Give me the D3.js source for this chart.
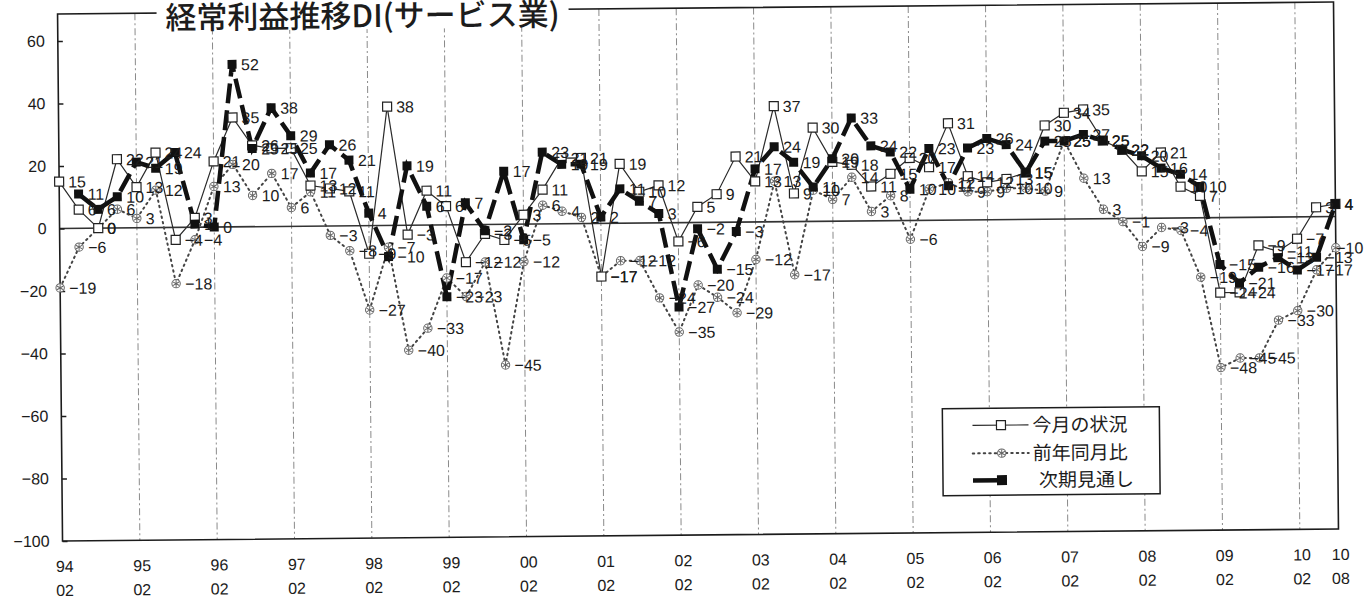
<!DOCTYPE html>
<html>
<head>
<meta charset="utf-8">
<script src="https://cdn.jsdelivr.net/npm/d3@7"></script>
<style>
  body { margin: 0; background: #fff; }
  svg { display: block; }
</style>
</head>
<body>
<svg id="chart" width="1369" height="607"></svg>
<script>
// Survey periods (year/month), quarterly from 1994/02 to 2010/08
const periods = [
  "94/02","94/05","94/08","94/11","95/02","95/05","95/08","95/11",
  "96/02","96/05","96/08","96/11","97/02","97/05","97/08","97/11",
  "98/02","98/05","98/08","98/11","99/02","99/05","99/08","99/11",
  "00/02","00/05","00/08","00/11","01/02","01/05","01/08","01/11",
  "02/02","02/05","02/08","02/11","03/02","03/05","03/08","03/11",
  "04/02","04/05","04/08","04/11","05/02","05/05","05/08","05/11",
  "06/02","06/05","06/08","06/11","07/02","07/05","07/08","07/11",
  "08/02","08/05","08/08","08/11","09/02","09/05","09/08","09/11",
  "10/02","10/05","10/08"
];

// 今月の状況 (current month)
const currentDI = [
  15, 6, 0, 22, 13, 24, -4, 3,
  21, 35, 26, 25, 25, 13, 12, 11,
  -9, 38, -3, 11, 6, -12, -3, -5,
  3, 11, 21, 21, -17, 19, 10, 12,
  -6, 5, 9, 21, 13, 37, 9, 30,
  19, 18, 11, 15, 20, 17, 31, 14,
  12, 13, 15, 30, 34, 35, 25, 22,
  15, 21, 10, 7, -24, -24, -9, -11,
  -7, 3, 4
];

// 前年同月比 (vs. same month a year earlier)
const yoyDI = [
  -19, -6, 0, 6, 3, 12, -18, -4,
  13, 20, 10, 17, 6, 11, -3, -8,
  -27, -7, -40, -33, -17, -23, -12, -45,
  -12, 6, 4, 2, -17, -12, -12, -24,
  -35, -20, -24, -29, -12, 13, -17, 10,
  7, 14, 3, 8, -6, 10, 12, 9,
  9, 10, 10, 9, 25, 13, 3, -1,
  -9, -3, -4, -19, -48, -45, -45, -33,
  -30, -17, -10
];

// 次期見通し (outlook for the next period)
const outlookDI = [
  null, 11, 6, 10, 21, 19, 24, 1,
  0, 52, 25, 38, 29, 17, 26, 21,
  4, -10, 19, 6, -23, 7, -2, 17,
  -5, 23, 19, 19, 2, 11, 7, 3,
  -27, -2, -15, -3, 17, 24, 19, 11,
  20, 33, 24, 22, 10, 23, 11, 23,
  26, 24, 15, 25, 25, 27, 25, 22,
  20, 16, 14, 10, -15, -21, -16, -13,
  -17, -13, 4
];

const yTicks = [-100, -80, -60, -40, -20, 0, 20, 40, 60];
const seriesNames = ["今月の状況", "前年同月比", "次期見通し"];
const chartTitle = "経常利益推移DI(サービス業)";

// ---------------------------------------------------------------
const fontLatin = "'Liberation Sans', Arial, sans-serif";
const fontJP = "'Noto Sans CJK JP', 'Noto Sans CJK SC', sans-serif";
const ink = "#1c1c1c";

const svg = d3.select("#chart");
svg.append("rect").attr("width", 1369).attr("height", 607).attr("fill", "#fff");

// the printed sheet sits very slightly tilted
const g = svg.append("g").attr("transform", "rotate(-0.54 698 270)");

const x = d3.scaleLinear().domain([0, periods.length - 1]).range([60, 1336]);
const y = d3.scaleLinear().domain([-100, 70]).range([535, 3.75]);

const plotTop = 8, plotBottom = y(-100), plotLeft = x(0), plotRight = x(periods.length - 1);

// yearly vertical guides
const yearIdx = periods.map((p, i) => i).filter(i => periods[i].endsWith("/02") && i > 0);
g.append("g").selectAll("line").data(yearIdx).join("line")
  .attr("x1", i => x(i)).attr("x2", i => x(i))
  .attr("y1", plotTop).attr("y2", plotBottom)
  .attr("stroke", "#8a8a8a").attr("stroke-width", 1)
  .attr("stroke-dasharray", "7,3,2,3");

// zero line
g.append("line")
  .attr("x1", plotLeft).attr("x2", plotRight).attr("y1", y(0)).attr("y2", y(0))
  .attr("stroke", "#333").attr("stroke-width", 1.6);

// frame
g.append("rect")
  .attr("x", plotLeft).attr("y", plotTop).attr("width", plotRight - plotLeft).attr("height", plotBottom - plotTop)
  .attr("fill", "none").attr("stroke", ink).attr("stroke-width", 1.6);

// y axis: ticks pointing inward, labels on the left
const yAxis = d3.axisLeft(y).tickValues(yTicks).tickSize(-5).tickPadding(13)
  .tickFormat(d => d < 0 ? "−" + Math.abs(d) : String(d));
const ya = g.append("g").attr("transform", `translate(${plotLeft},0)`).call(yAxis);
ya.select(".domain").remove();
ya.selectAll("line").attr("stroke", ink).attr("stroke-width", 1.4);
ya.selectAll("text").attr("font-family", fontLatin).attr("font-size", 16).attr("fill", ink);

// x axis labels (two lines: year / month)
const xLabelIdx = periods.map((p, i) => i)
  .filter(i => periods[i].endsWith("/02") || i === periods.length - 1);
const xl = g.append("g").selectAll("text").data(xLabelIdx).join("text")
  .attr("x", i => x(i) + 2)
  .attr("text-anchor", "middle")
  .attr("font-family", fontLatin).attr("font-size", 16).attr("fill", ink);
xl.append("tspan").attr("x", i => x(i) + 2).attr("y", 566).text(i => periods[i].split("/")[0]);
xl.append("tspan").attr("x", i => x(i) + 2).attr("y", 590).text(i => periods[i].split("/")[1]);

// series lines
const lineGen = d3.line()
  .defined(d => d.v !== null)
  .x(d => x(d.i)).y(d => y(d.v));
const toPts = arr => arr.map((v, i) => ({ i, v }));

const curPts = toPts(currentDI);
const yoyPts = toPts(yoyDI);
const outPts = toPts(outlookDI);

g.append("path").datum(yoyPts).attr("d", lineGen)
  .attr("fill", "none").attr("stroke", "#444").attr("stroke-width", 2)
  .attr("stroke-dasharray", "1.5,4").attr("stroke-linecap", "round");

g.append("path").datum(curPts).attr("d", lineGen)
  .attr("fill", "none").attr("stroke", "#2a2a2a").attr("stroke-width", 1.2);

g.append("path").datum(outPts).attr("d", lineGen)
  .attr("fill", "none").attr("stroke", "#111").attr("stroke-width", 4.5)
  .attr("stroke-dasharray", "20,7");

// markers
const yoyMark = (sel, cx, cy, r) => {
  sel.append("circle").attr("cx", cx).attr("cy", cy).attr("r", r)
    .attr("fill", "#fff").attr("stroke", "#666").attr("stroke-width", 1);
  sel.append("path").attr("transform", `translate(${cx},${cy})`)
    .attr("d", d3.symbol().type(d3.symbolAsterisk).size(r * r * 2.2)())
    .attr("fill", "none").attr("stroke", "#666").attr("stroke-width", 1);
};

const yoyG = g.append("g");
yoyPts.filter(d => d.v !== null).forEach(d => yoyMark(yoyG, x(d.i), y(d.v), 4.2));

g.append("g").selectAll("rect").data(curPts.filter(d => d.v !== null)).join("rect")
  .attr("x", d => x(d.i) - 4.5).attr("y", d => y(d.v) - 4.5)
  .attr("width", 9).attr("height", 9)
  .attr("fill", "#fff").attr("stroke", "#222").attr("stroke-width", 1.2);

g.append("g").selectAll("rect").data(outPts.filter(d => d.v !== null)).join("rect")
  .attr("x", d => x(d.i) - 4.5).attr("y", d => y(d.v) - 4.5)
  .attr("width", 9).attr("height", 9)
  .attr("fill", "#111");

// value labels to the right of every point (kept inside the page at the right edge)
const fmt = v => (v < 0 ? "−" + Math.abs(v) : String(v));
[yoyPts, curPts, outPts].forEach(pts => {
  g.append("g").selectAll("text").data(pts.filter(d => d.v !== null)).join("text")
    .attr("x", d => Math.min(x(d.i) + 9, 1364 - 9.2 * fmt(d.v).length))
    .attr("y", d => y(d.v) + 6)
    .attr("font-family", fontLatin).attr("font-size", 16).attr("fill", ink)
    .text(d => fmt(d.v));
});

// title, breaking the top edge of the frame
const titleX = 365;
g.append("rect").attr("x", titleX - 206).attr("y", -10).attr("width", 412).attr("height", 36)
  .attr("fill", "#fff");
g.append("text").attr("x", titleX).attr("y", 24)
  .attr("text-anchor", "middle")
  .attr("font-family", fontJP).attr("font-size", 31).attr("font-weight", 500).attr("fill", ink)
  .text(chartTitle);

// legend
const lg = g.append("g");
lg.append("rect").attr("x", 941).attr("y", 411).attr("width", 217).attr("height", 87)
  .attr("fill", "#fff").attr("stroke", ink).attr("stroke-width", 1.5);
const rowY = [428, 456, 483];

lg.append("line").attr("x1", 971).attr("x2", 1027).attr("y1", rowY[0]).attr("y2", rowY[0])
  .attr("stroke", "#2a2a2a").attr("stroke-width", 1.2);
lg.append("rect").attr("x", 995).attr("y", rowY[0] - 4.5).attr("width", 9).attr("height", 9)
  .attr("fill", "#fff").attr("stroke", "#222").attr("stroke-width", 1.2);

lg.append("line").attr("x1", 971).attr("x2", 1027).attr("y1", rowY[1]).attr("y2", rowY[1])
  .attr("stroke", "#444").attr("stroke-width", 2).attr("stroke-dasharray", "1.5,4")
  .attr("stroke-linecap", "round");
yoyMark(lg, 1000, rowY[1], 4.2);

lg.append("line").attr("x1", 971).attr("x2", 1000).attr("y1", rowY[2]).attr("y2", rowY[2])
  .attr("stroke", "#111").attr("stroke-width", 4.5);
lg.append("rect").attr("x", 995).attr("y", rowY[2] - 5).attr("width", 10).attr("height", 10)
  .attr("fill", "#111");

lg.selectAll("text.lbl").data(seriesNames).join("text").attr("class", "lbl")
  .attr("x", (d, i) => i === 2 ? 1037 : 1031)
  .attr("y", (d, i) => rowY[i] + 7)
  .attr("font-family", fontJP).attr("font-size", 19).attr("fill", ink)
  .text(d => d);
</script>
</body>
</html>
